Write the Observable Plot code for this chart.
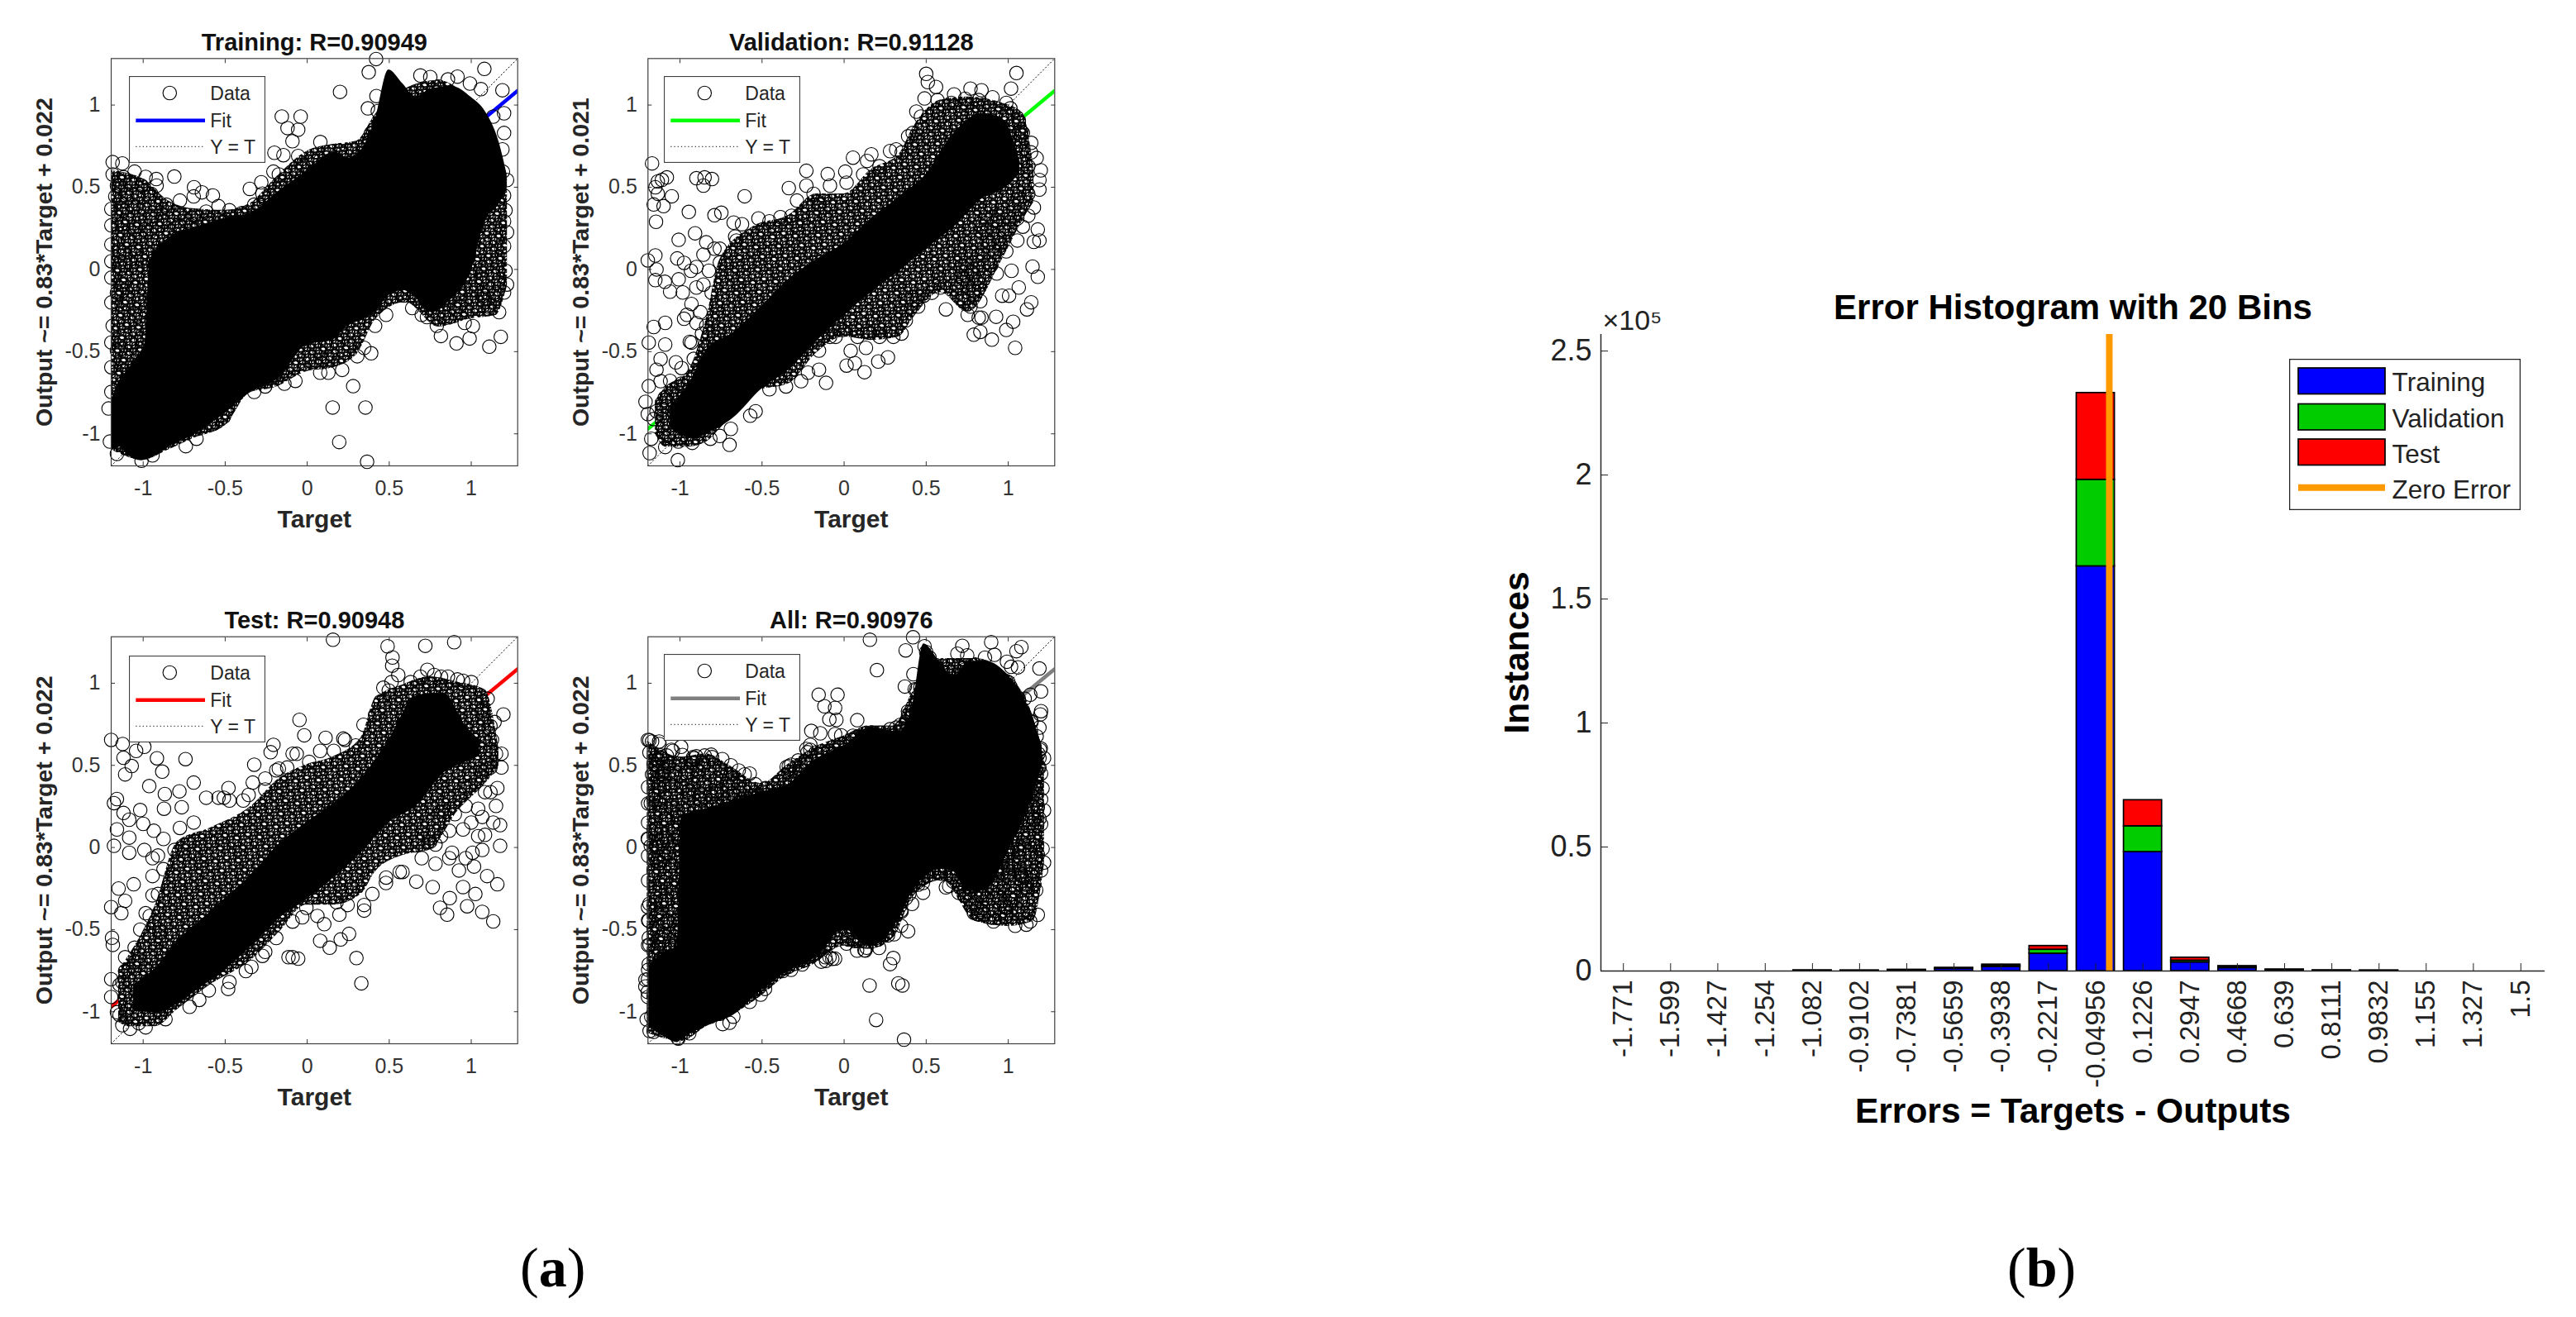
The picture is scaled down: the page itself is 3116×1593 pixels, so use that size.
<!DOCTYPE html>
<html><head><meta charset="utf-8">
<script src="https://cdn.jsdelivr.net/npm/d3@7"></script>
<script src="https://cdn.jsdelivr.net/npm/@observablehq/plot@0.6"></script>
<style>
html,body{margin:0;padding:0;background:#fff;width:3116px;height:1593px;overflow:hidden}
#page{position:relative;width:3116px;height:1593px;font-family:"Liberation Sans",sans-serif}
#page>svg,#page>div,#page>figure{position:absolute;margin:0}
.cap{font-family:"Liberation Serif",serif;font-size:68px;color:#000;line-height:1}
</style></head><body><div id="page"></div>
<script>
// ---------- scatter panels: [target, output] ----------
const trainingPoints = [
[1.08,1.22],[1.19,1.09],[.2,1.08],[.42,1.28],[.375,1.2],[.37,.98],[.69,1.18],[.75,1.17],[1.2,.95],[-.155,.93],[-.04,.93],[-.12,.86],[-.055,.85],[-.09,.78],[.08,.775],[-.055,.69],[-.2,.71],[-.145,.695],[-.81,.565],[-.69,.5],[-.575,.45],[-.35,.49],[-.28,.53],[-.92,.55],[.28,-.71],[.155,-.84],[.355,-.84],[.195,-1.05],[.365,-1.17],[-.74,-1.075],[-.675,-1.03],[-.575,-.94],[.39,-.51],[1.18,-.41],[1.11,-.47],[.91,-.45],[.815,-.405],[.99,-.42],[1.01,-.345],[.96,-.325],[.73,-.29],[.64,-.235],[1.17,-.26],[1.2,-.14],[1.19,.73],[1.2,.45],
[-1.186,.653],[-1.127,.645],[-1.186,.578],[-1.119,.561],[-1.16,.51],[-1.052,.595],[-.985,.563],[-.918,.51],[-1.01,.51],[-1.17,.444],[-1.1,.46],[-1.027,.444],[-.951,.46],[-1.194,.368],[-1.127,.368],[-1.044,.377],[-.943,.327],[-.859,.394],[-.776,.419],[-.692,.444],[-.642,.469],[-.776,.343],[-.692,.327],[-.616,.352],[-.541,.385],[-.474,.36],[-.399,.343],[-.876,.293],[-.792,.26],[-.709,.268],[-.6,.285],[-.508,.293],[-.96,.226],[-1.044,.26],[-1.127,.276],[-1.194,.268],[-1.094,.176],[-1.194,.152],[-1.144,.109],[-1.044,.126],[-1.194,.05],[-1.11,.042],[-1.044,.008],[-1.194,-.05],[-1.119,-.092],[-1.044,-.109],[-1.16,-.142],[-1.194,-.201],[-1.104,-.209],[-1.044,-.276],[-1.186,-.343],[-1.119,-.343],[-1.194,-.444],[-1.077,-.444],[-1.16,-.494],[-1.01,-.511],[-1.194,-.595],[-1.11,-.578],[-1.027,-.611],[-1.194,-.745],[-1.211,-.846],[-1.203,-1.047],[-1.16,-1.122],[-1.01,-1.164],[-.943,-1.131],
[1.2,.83],[1.218,.544],[1.209,.36],[1.2,.293],[1.218,.226],[1.2,.142],[1.209,-.008],[1.218,-.092],[1.168,-.059],[1.117,.059],[1.067,-.059],[1,-.008],[.933,-.142],[1,-.126],[1.084,-.176],[1.151,-.149],[1.1,-.226],[.925,-.226],[.849,-.293],[.79,-.343],[.698,-.276],[.59,-.159],[.481,-.276],[.414,-.343],[.347,-.477],[.305,-.528],[.213,-.611],[.129,-.628],[.079,-.628],[.129,-.544],[.028,-.561],[-.072,-.678],[-.139,-.695],[-.256,-.712],[-.323,-.745],[-.508,-.896],[.422,1.055],[.43,.963],[.389,.829],[.347,.729],[.079,.662],[-.022,.628],[-.173,.578],[-.206,.595],[-.273,.461],[-.323,.394],[.858,1.156],[.916,1.173],[.992,1.131],[1.059,1.097],[.799,1.114],[1.134,.93],[1.193,.595]
];
const validationPoints = [
[.5,1.19],[.51,1.14],[.56,1.11],[1.05,1.195],[1.017,1.1],[.77,1.1],[.837,1.09],[.67,1.065],[.49,1.04],[.44,.96],[.39,.81],[.166,.7],[.14,.66],[.054,.68],[.007,.595],[-.1,.58],[-.23,.6],[-.337,.495],[-.23,.51],[.28,.72],[.317,.73],[-1.17,.645],[-1.08,.56],[-1.11,.545],[-1.135,.535],[-1.15,.5],[-.9,.555],[-.85,.56],[-.805,.55],[-.857,.51],[-1.05,.445],[-1.135,.46],[-1.16,.395],[-1.1,.385],[-1.146,.29],[-.946,.35],[-.606,.445],[-.748,.345],[-.79,.33],[-.673,.285],[-.622,.275],[-.908,.22],[-1.008,.18],[-.664,.2],[-.84,.165],[-1.15,.085],[-1.196,.055],[-1.017,.067],[-1.143,0],[-1.15,-.065],[-1.092,-.075],[-1.06,-.135],[-.983,-.14],[-1.008,-.06],[-.9,.015],[-.9,-.11],[-.93,-.21],[-.975,-.3],[-.875,-.26],[-1.09,-.325],[-1.16,-.35],[-1.19,-.445],[-1.09,-.457],[-.93,-.445],[-.866,-.39],[-1.118,-.545],[-1.025,-.565],[-1.143,-.61],[-.99,-.6],[-1.19,-.71],[-1.118,-.68],[-1.21,-.805],[-1.196,-.88],[-1.11,-.83],[-1.16,-.91],[-1.175,-1.03],[-1.185,-1.117],[-1.09,-1.08],[-1.013,-1.16],[-.698,-1.067],[-.69,-.97],[-.925,-1.055],[-.815,-1.03],[-.572,-.89],[-.262,-.68],[-.11,-.69],[-.153,-.61],[.015,-.585],[.065,-.57],[.124,-.625],[.208,-.56],[.267,-.535],[.04,-.495],[.133,-.477],[-.052,-.41],[.158,-.385],[.35,-.39],[.62,-.243],[.79,-.397],[.83,-.38],[.9,-.427],[1.042,-.477],[.988,-.368],[1.03,-.318],[.926,-.288],[.82,-.293],[1.114,-.243],[1.14,-.2],[.963,-.16],[1.005,-.16],[1.18,-.045],[1.064,-.11],[.93,-.025],[1.02,-.008],[1.148,.017],[.988,.11],[1.055,.176],[1.156,.168],[1.19,.176],[1.18,.243],[.955,.16],[.82,.09],[.77,-.008],[.728,-.06],[.71,-.176],[.77,-.226],[.83,-.193],[.585,-.11],[.485,-.16],[.418,-.184],[1.156,.377],[1.122,.46],[1.19,.486],[1.198,.603],[1.173,.678],[1.14,.77],[1.08,.84],[1.089,.73],[1.064,.905],[1.013,.98],[.904,1.047],[.92,.293],[.854,.243],[1.055,.31],
[-.975,.04],[-.933,-.008],[-.857,.09],[-.824,-.008],[-.79,.126],[-.757,.042],[-.857,-.092],[-.807,-.142],[-.958,-.276],[-.899,-.327],[-.84,-.343],[-.94,-.44],[-.916,-.544],[-.84,-.477],[-.79,-.41],[-1.06,-.678],[-.993,-.695],[-1.092,-.78],[-1.025,-.762],[-1.143,-.863],[-1.076,-1.013],[-1.01,-1.047],
[-.522,.31],[-.455,.293],[-.388,.318],[-.32,.327],[-.253,.343],[-.186,.46],[-.086,.51],[-.153,.394],[-.287,.419],[-.656,.176],[-.757,.126],[.015,.528],[.116,.578],[.216,.628],[.351,.712],[.418,.83],[.468,.93],[.569,1.03],[.653,1.013],[.737,1.038],[.82,1.03],[.988,1.013],
[-.086,-.41],[-.01,-.368],[.082,-.41],[.216,-.41],[.3,-.41],[.376,-.31],[.451,-.226],[.535,-.142],[-.153,-.494],[-.22,-.628],[-.354,-.712],[-.455,-.729],[-.539,-.863],[-.757,-1.013],
[.72,.025],[.804,-.059],[.896,.025],[.888,.159],[.988,.243],[1.089,.26],[1.122,.327],[.955,.343],[1.055,.427],[1.122,.628],[1.089,.83],[1.139,.712],[1.19,.544],[.787,-.126],[.703,-.109],[.837,-.293],[.753,-.276]
];
const testPoints = [
[.157,1.265],[.49,1.225],[.52,1.157],[.518,1.107],[.555,1.05],[.72,1.228],[.896,1.25],[.464,.973],[.514,1.007],[.732,1.082],[.774,1.05],[.69,1.04],[.858,1.04],[.95,1.015],[1.196,.81],[1.1,.906],[1.142,.764],[-.047,.777],[-.018,.683],[.343,.747],[.112,.668],[.22,.663],[-.206,.625],[-.223,.58],[-.064,.57],[-.323,.504],[-.173,.48],[-.256,.42],[-.332,.395],[-.48,.362],[-1.195,.655],[-1.125,.63],[-.993,.613],[-1.043,.588],[-.916,.543],[-.742,.538],[-1.12,.546],[-1.07,.496],[-1.11,.445],[-.884,.462],[-.963,.374],[-.692,.395],[-.779,.342],[-.868,.325],[-.616,.303],[-.508,.303],[-1.16,.295],[-1.178,.27],[-1.018,.228],[-.873,.236],[-.765,.245],[-1.12,.21],[-1.085,.169],[-1,.144],[-1.16,.11],[-.935,.102],[-1.085,.06],[-1.178,.01],[-1.085,-.032],[-.993,-.015],[-.91,-.049],[-.943,-.174],[-1.15,-.25],[-1.058,-.224],[-1.11,-.325],[-1.195,-.363],[-1.133,-.4],[-.985,-.4],[-.943,-.291],[-1.018,-.5],[-1.19,-.55],[-1.185,-.593],[-1.052,-.61],[-1.11,-.668],[-1.195,-.802],[-1.195,-.91],[-1.127,-.82],[-1.16,-1.003],[-1.127,-1.082],[-1.08,-1.104],[-.985,-1.095],[-.864,-1.045],[-.717,-.97],[-.482,-.861],[-.6,-.87],[-.658,-.928],[-.34,-.727],[-.273,-.66],[-.114,-.668],[-.089,-.668],[-.055,-.677],[.3,-.673],[.33,-.827],[.137,-.61],[.079,-.568],[.204,-.56],[.255,-.526],[.196,-.409],[.347,-.384],[.104,-.467],[-.03,-.425],[.48,-.216],[.665,-.208],[.765,-.241],[.81,-.367],[.853,-.409],[.869,-.308],[.975,-.358],[1.067,-.392],[1.134,-.45],[1.025,-.283],[.95,-.241],[1.159,-.224],[1.097,-.174],[.925,-.14],[1.017,-.116],[1.176,.01],[1.008,-.032],[.883,-.032],[1.084,.077],[1.176,.136],[1.042,.069],[.95,.11],[.816,.069],[.749,.035],[.9,.203],[1.042,.236],[1.151,.253],[1.117,.337],[1.159,.362],[1.184,.487],[1.184,.571],[1.126,.655],[1.084,.471],[.983,.37],[.816,.219],[.581,-.149],
[-.876,-.132],[-.809,-.015],[-.876,.052],[-.943,-.065],[-.776,.119],[-.692,.152],[-.91,-.283],[-.96,-.417],[-.901,-.518],[-.926,-.618],[-1.044,-.693],[-1.11,-.752],[-1.144,-.836],[-1.094,-.987],[-1.027,-1.07],[-1.144,-1.02],
[-.541,.303],[-.474,.286],[-.39,.286],[-.357,.32],[-.256,.353],[-.189,.47],[-.122,.487],[-.089,.571],[.012,.521],[.079,.588],[.162,.588],[.23,.655],[.296,.621],[.414,.806],[.447,.889],[.497,.956],[.631,1.007],[.816,1.04],[.916,1.023],[1,1.007],
[-.474,-.819],[-.374,-.752],[-.256,-.635],[-.189,-.551],[-.089,-.451],[-.005,-.367],[.062,-.417],[.179,-.333],[.246,-.35],[.347,-.35],[.397,-.283],[.481,-.183],[.564,-.149],
[.698,-.065],[.782,-.099],[.866,-.065],[.966,-.065],[1.067,-.015],[1.134,.152],[1.067,.186],[.966,.253],[1,.152],[1.084,.337],[1.117,.487],[1.151,.571],[1.117,.739],[1.067,.839],[.866,.102],[.782,.018]
];
const allPoints = [...trainingPoints, ...validationPoints, ...testPoints];

// solid black mass and the looser mass around it: [target, lowest output, highest output]
const trainingCore = [[-1.195,-1.1,-.8],[-1.144,-1.08,-.678],[-1.094,-1.13,-.611],[-1.01,-1.164,-.494],[-.99,-1.16,-.45],[-.96,-1.15,.05],[-.843,-1.08,.193],[-.675,-.997,.26],[-.508,-.879,.31],[-.34,-.745,.343],[-.173,-.662,.477],[-.005,-.461,.595],[.162,-.427,.712],[.246,-.343,.678],[.33,-.31,.729],[.414,-.26,.913],[.497,-.159,1.214],[.581,-.126,1.131],[.665,-.176,1.047],[.749,-.26,1.097],[.883,-.176,1.114],[1,-.008,1.047],[1.084,.293,.963],[1.168,.394,.779],[1.218,.494,.578]];
const trainingLoose = [[-1.19,-1.1,.6],[-1,-1.16,.55],[-.85,-1.1,.42],[-.7,-1.03,.37],[-.5,-.95,.36],[-.35,-.75,.4],[-.2,-.72,.55],[0,-.62,.72],[.15,-.6,.76],[.3,-.52,.78],[.42,-.3,.95],[.6,-.2,1.1],[.8,-.35,1.15],[1,-.3,1.02],[1.15,-.28,.8],[1.22,-.1,.55]];
const validationCore = [[-1.06,-.96,-.83],[-.925,-1.03,-.66],[-.84,-1,-.49],[-.67,-.9,-.38],[-.505,-.73,-.225],[-.337,-.61,-.06],[-.17,-.44,.06],[0,-.28,.16],[.166,-.14,.31],[.334,-.01,.44],[.5,.125,.58],[.67,.26,.83],[.84,.43,.95],[.97,.49,.91],[1.07,.58,.66]];
const validationLoose = [[-1.15,-1,-.8],[-1.09,-1.08,-.72],[-.95,-1.08,-.62],[-.84,-1.05,-.3],[-.757,-.97,.06],[-.555,-.745,.26],[-.337,-.695,.33],[-.17,-.51,.46],[0,-.41,.46],[.166,-.43,.61],[.334,-.41,.7],[.418,-.3,.86],[.586,-.14,1.03],[.753,-.26,1.05],[.971,.075,1.01],[1.089,.3,.95],[1.156,.41,.61]];
const testCore = [[-1.06,-.99,-.836],[-.926,-1.007,-.735],[-.792,-.953,-.568],[-.675,-.87,-.467],[-.508,-.752,-.317],[-.34,-.6,-.166],[-.173,-.434,.018],[-.005,-.317,.152],[.162,-.183,.27],[.33,-.032,.42],[.497,.15,.655],[.665,.253,.923],[.832,.454,.94],[.966,.52,.74],[1.05,.554,.655]];
const testLoose = [[-1.15,-1.06,-.75],[-1.094,-1.09,-.668],[-.926,-1.09,-.35],[-.792,-.987,.035],[-.591,-.836,.119],[-.34,-.685,.253],[-.173,-.518,.42],[-.005,-.35,.504],[.162,-.35,.554],[.33,-.283,.672],[.414,-.149,.906],[.581,-.049,.99],[.749,-.015,1.04],[.916,.219,1.007],[1.084,.387,.96],[1.168,.487,.605]];
const allCore = [[-1.19,-1.09,-.72],[-1.092,-1.154,-.635],[-1.017,-1.188,-.6],[-.992,-1.17,.186],[-.84,-1.087,.236],[-.673,-1.02,.286],[-.505,-.869,.337],[-.337,-.752,.387],[-.17,-.668,.538],[0,-.5,.62],[.166,-.6,.73],[.334,-.434,.705],[.418,-.266,.873],[.485,-.183,1.24],[.586,-.132,1.124],[.669,-.149,1.04],[.753,-.266,1.124],[.87,-.25,1.132],[1.005,-.015,1.04],[1.122,.236,.856],[1.206,.487,.62]];
const allLoose = [[-1.2,-1.13,.65],[-.99,-1.18,.55],[-.84,-1.09,.57],[-.7,-1.03,.5],[-.5,-.9,.39],[-.35,-.78,.5],[-.2,-.72,.6],[0,-.6,.68],[.15,-.62,.74],[.3,-.55,.74],[.42,-.3,.95],[.6,-.2,1.15],[.8,-.45,1.15],[1,-.48,1.05],[1.15,-.45,.8],[1.22,-.1,.55]];

// fitted lines and the identity line, end to end of the axes
const axisEnds = [-1.195, 1.283];
const fitOutputs = [-.97, 1.087];
const axisTicks = [-1, -.5, 0, .5, 1];

// ---------- error histogram ----------
const binCenters = [-1.771,-1.599,-1.427,-1.254,-1.082,-0.9102,-0.7381,-0.5659,-0.3938,-0.2217,-0.04956,0.1226,0.2947,0.4668,0.639,0.8111,0.9832,1.155,1.327,1.5];
const trainingCounts   = [0,0,0,0,150,120,350,900,1700,7000,163200,48000,3500,1200,400,150,120,0,0,0];
const validationCounts = [0,0,0,0,30,30,70,200,450,1600,34900,10400,700,300,100,40,30,0,0,0];
const testCounts       = [0,0,0,0,30,30,70,200,450,1500,35000,10500,1200,500,100,40,30,0,0,0];
const binHalfWidth = 0.0695;
const countTicks = [0,50000,100000,150000,200000,250000];

const page = document.getElementById("page");
const FONT = '"Liberation Sans",sans-serif';

function place(el, left, top){ el.style.left = left+"px"; el.style.top = top+"px"; page.appendChild(el); }

// texture for the crowded zones where rings of the same size overlap
const RING_TILE = 97;
(function addRingTexture(){
  const NS = "http://www.w3.org/2000/svg";
  const svg = document.createElementNS(NS,"svg");
  svg.setAttribute("width",0); svg.setAttribute("height",0);
  const defs = document.createElementNS(NS,"defs");
  const pat = document.createElementNS(NS,"pattern");
  pat.setAttribute("id","rings"); pat.setAttribute("patternUnits","userSpaceOnUse");
  pat.setAttribute("width",RING_TILE); pat.setAttribute("height",RING_TILE);
  const bg = document.createElementNS(NS,"rect");
  bg.setAttribute("width",RING_TILE); bg.setAttribute("height",RING_TILE); bg.setAttribute("fill","#fff");
  pat.appendChild(bg);
  for (let i=1;i<=260;i++){
    const cx=(i*0.7548776662)%1*RING_TILE, cy=(i*0.5698402910)%1*RING_TILE;
    for (const ox of [-RING_TILE,0,RING_TILE]) for (const oy of [-RING_TILE,0,RING_TILE]){
      if (cx+ox<-10||cx+ox>RING_TILE+10||cy+oy<-10||cy+oy>RING_TILE+10) continue;
      const c=document.createElementNS(NS,"circle");
      c.setAttribute("cx",cx+ox); c.setAttribute("cy",cy+oy); c.setAttribute("r",8.2);
      c.setAttribute("fill","none"); c.setAttribute("stroke","#000"); c.setAttribute("stroke-width",1.1);
      pat.appendChild(c);
    }
  }
  defs.appendChild(pat); svg.appendChild(defs); page.appendChild(svg);
})();

function panel({title, yLabel, fitColor, points, core, loose, left, top, mL, mR, mT, mB}) {
  const width = 650, height = 650;
  const rows = t => t.map(([x,lo,hi]) => ({x,lo,hi}));
  const dom = [axisEnds[0], axisEnds[1]];
  const fit = axisEnds.map((x,i) => ({x, y: fitOutputs[i]}));
  const ident = axisEnds.map(x => ({x, y: x}));
  const tf = d => String(d);
  const plot = Plot.plot({
    width, height, marginLeft: mL, marginRight: mR, marginTop: mT, marginBottom: mB,
    x: {domain: dom}, y: {domain: dom},
    style: {fontFamily: FONT, background: "transparent", overflow: "visible"},
    marks: [
      Plot.axisX({anchor:"bottom", ticks:axisTicks, tickFormat:tf, tickSize:-5, tickPadding:23, fontSize:25, color:"#333", label:null}),
      Plot.axisX({anchor:"top", ticks:axisTicks, tickFormat:null, tickSize:-5, text:null, color:"#333", label:null}),
      Plot.axisY({anchor:"left", ticks:axisTicks, tickFormat:tf, tickSize:-5, tickPadding:18, fontSize:25, color:"#333", label:null}),
      Plot.axisY({anchor:"right", ticks:axisTicks, tickFormat:null, tickSize:-5, text:null, color:"#333", label:null}),
      Plot.line(ident, {x:"x", y:"y", stroke:"#000", strokeWidth:1, strokeDasharray:"1.2,3"}),
      Plot.line(fit, {x:"x", y:"y", stroke:fitColor, strokeWidth:4.5, clip:"frame"}),
      Plot.areaY(rows(loose), {x:"x", y1:"lo", y2:"hi", fill:"url(#rings)", curve:"monotone-x"}),
      Plot.areaY(rows(core), {x:"x", y1:"lo", y2:"hi", fill:"#000", curve:"monotone-x"}),
      Plot.dot(points, {x:d=>d[0], y:d=>d[1], r:8.2, stroke:"#000", strokeWidth:1.1, fill:"none"}),
      Plot.frame({stroke:"#404040", strokeWidth:1.2}),
      Plot.text([title], {frameAnchor:"top", lineAnchor:"middle", dy:-19, fontSize:29, fontWeight:"bold", fill:"#111"}),
      Plot.text(["Target"], {frameAnchor:"bottom", lineAnchor:"middle", dy:65, fontSize:30, fontWeight:"bold", fill:"#262626"}),
      Plot.text([yLabel], {frameAnchor:"left", textAnchor:"middle", lineAnchor:"middle", rotate:-90, dx:-81, fontSize:28.5, fontWeight:"bold", fill:"#262626"})
    ]
  });
  place(plot, left, top);
}

function scatterLegend(left, top, fitColor) {
  const d = document.createElement("div");
  d.innerHTML = `<svg width="165" height="105" style="display:block;font-family:${FONT.replace(/"/g,"'")}">
    <rect x="0.5" y="0.5" width="164" height="104" fill="#fff" stroke="#404040" stroke-width="1.2"/>
    <circle cx="49.3" cy="20.5" r="8.2" fill="none" stroke="#000" stroke-width="1.1"/>
    <line x1="8.3" x2="92" y1="53.7" y2="53.7" stroke="${fitColor}" stroke-width="4.5"/>
    <line x1="8.3" x2="92" y1="85.3" y2="85.3" stroke="#000" stroke-width="1" stroke-dasharray="1.2,3"/>
    <text x="98.3" y="29.3" font-size="23" fill="#262626">Data</text>
    <text x="98.3" y="62" font-size="23" fill="#262626">Fit</text>
    <text x="98.3" y="93.7" font-size="23" fill="#262626">Y = T</text></svg>`;
  place(d, left, top);
}

panel({title:"Training: R=0.90949", yLabel:"Output ~= 0.83*Target + 0.022", fitColor:"#0000ff", points:trainingPoints, core:trainingCore, loose:trainingLoose, left:0, top:20, mL:134, mR:24.3, mT:50.3, mB:107});
panel({title:"Validation: R=0.91128", yLabel:"Output ~= 0.83*Target + 0.021", fitColor:"#00ff00", points:validationPoints, core:validationCore, loose:validationLoose, left:650, top:20, mL:133.3, mR:24.7, mT:50.3, mB:107});
panel({title:"Test: R=0.90948", yLabel:"Output ~= 0.83*Target + 0.022", fitColor:"#ff0000", points:testPoints, core:testCore, loose:testLoose, left:0, top:720, mL:134, mR:24.3, mT:49.7, mB:108});
panel({title:"All: R=0.90976", yLabel:"Output ~= 0.83*Target + 0.022", fitColor:"#7f7f7f", points:allPoints, core:allCore, loose:allLoose, left:650, top:720, mL:133.3, mR:24.7, mT:49.7, mB:108});
scatterLegend(155.7, 92.3, "#0000ff");
scatterLegend(803.3, 92.3, "#00ff00");
scatterLegend(155.7, 792.5, "#ff0000");
scatterLegend(803.3, 791, "#7f7f7f");

// histogram
const seriesDefs = [["Training", trainingCounts, "#0000ff"], ["Validation", validationCounts, "#00cc00"], ["Test", testCounts, "#ff0000"]];
const histRows = binCenters.flatMap((c, i) => {
  let base = 0;
  return seriesDefs.map(([name, counts, color]) => {
    const r = {x1: c - binHalfWidth, x2: c + binHalfWidth, y1: base, y2: base + counts[i], color};
    base += counts[i];
    return r;
  });
});
const hist = Plot.plot({
  width: 1336, height: 1060, marginLeft: 156, marginRight: 38, marginTop: 64, marginBottom: 226,
  x: {domain: [-1.853, 1.588]}, y: {domain: [0, 256700]},
  style: {fontFamily: FONT, background: "transparent", overflow: "visible"},
  marks: [
    Plot.rect(histRows, {x1:"x1", x2:"x2", y1:"y1", y2:"y2", fill:"color", stroke:"#000", strokeWidth:1.7}),
    Plot.ruleX([0], {stroke:"#ff9900", strokeWidth:8}),
    Plot.ruleY([0], {stroke:"#262626", strokeWidth:1.5}),
    Plot.ruleX([-1.853], {stroke:"#262626", strokeWidth:1.5}),
    Plot.axisX({anchor:"bottom", ticks:binCenters, tickFormat:d=>String(d), tickRotate:-90, tickSize:-9, tickPadding:20, fontSize:33, color:"#222", label:null}),
    Plot.axisY({anchor:"left", ticks:countTicks, tickFormat:d=>String(d/1e5), tickSize:-9, tickPadding:20, fontSize:36, color:"#222", label:null}),
    Plot.text(["Error Histogram with 20 Bins"], {frameAnchor:"top", lineAnchor:"middle", dy:-32, fontSize:42, fontWeight:"bold", fill:"#000"}),
    Plot.text(["Errors = Targets - Outputs"], {frameAnchor:"bottom", lineAnchor:"middle", dy:170, fontSize:42.5, fontWeight:"bold", fill:"#000"}),
    Plot.text(["Instances"], {frameAnchor:"left", textAnchor:"middle", lineAnchor:"middle", rotate:-90, dx:-101, fontSize:42.5, fontWeight:"bold", fill:"#000"}),
    Plot.text(["×10⁵"], {frameAnchor:"top-left", dy:-30, dx:2, fontSize:34, textAnchor:"start", fill:"#222"})
  ]
});
place(hist, 1780, 340);

// histogram legend
const histLegend = document.createElement("div");
histLegend.innerHTML = `<svg width="280" height="183" style="display:block;font-family:${FONT.replace(/"/g,"'")}">
  <rect x="0.5" y="0.5" width="279" height="182" fill="#fff" stroke="#222" stroke-width="1.5"/>
  <rect x="11" y="11" width="105" height="31.5" fill="#0000ff" stroke="#000" stroke-width="1.7"/>
  <rect x="11" y="54.5" width="105" height="31.5" fill="#00cc00" stroke="#000" stroke-width="1.7"/>
  <rect x="11" y="97" width="105" height="31.5" fill="#ff0000" stroke="#000" stroke-width="1.7"/>
  <line x1="11" x2="116" y1="155.7" y2="155.7" stroke="#ff9900" stroke-width="8"/>
  <text x="124.6" y="39" font-size="31.5" fill="#222">Training</text>
  <text x="124.6" y="83" font-size="31.5" fill="#222">Validation</text>
  <text x="124.6" y="126" font-size="31.5" fill="#222">Test</text>
  <text x="124.6" y="169" font-size="31.5" fill="#222">Zero Error</text></svg>`;
place(histLegend, 2769, 433.5);

// sub-figure captions
for (const [left, a] of [[629, "a"], [2428, "b"]]) {
  const c = document.createElement("div");
  c.className = "cap";
  c.innerHTML = `(<b>${a}</b>)`;
  place(c, left, 1499);
}
</script></body></html>
